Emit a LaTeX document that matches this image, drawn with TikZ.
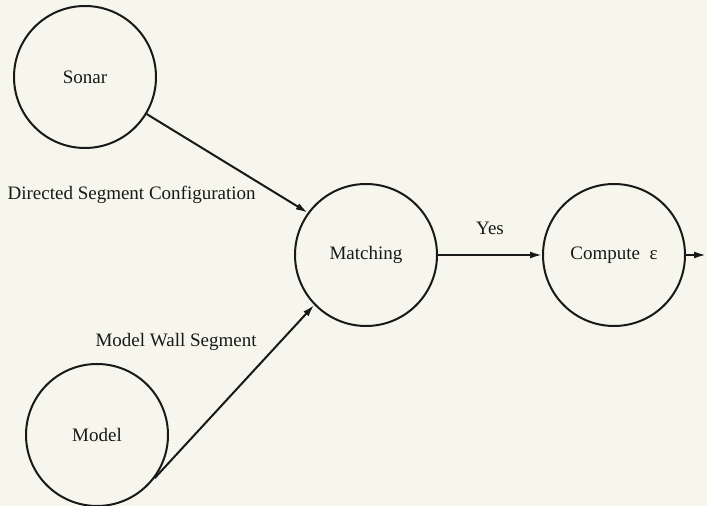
\documentclass[tikz,border=0pt]{standalone}
\usepackage{fontspec}
\setmainfont{Liberation Serif}
\usetikzlibrary{arrows.meta, positioning}
\definecolor{paper}{RGB}{246,246,236}
\definecolor{ink}{RGB}{25,25,25}
\tikzset{
    bubble/.style={circle, draw=ink, text=ink, line width=1pt, minimum size=71pt, inner sep=0pt, align=center, font=\fontsize{9.5}{11}\selectfont},
    flow/.style={draw=ink, line width=1pt, -{Latex[length=6pt, width=3.5pt]}},
    tag/.style={text=ink, inner sep=0pt, font=\fontsize{9.5}{11}\selectfont}
}

\begin{document}
\begin{tikzpicture}[x=0.5pt, y=-0.5pt]

    % Paper
    \path [use as bounding box, fill=paper] (0,0) rectangle (707,506);

    % Inputs
    \node (sonar) [bubble] at (85,77) {Sonar};
    \node (model) [bubble] at (97,435) {Model};

    % Processes
    \node (matching) [bubble] at (366,255) {Matching};
    \node (compute) [bubble, right=52pt of matching] {Compute~~ε};
    \coordinate (output) at (706,255);

    % Flows
    \draw [flow] (sonar.-31) -- (matching.144);
    \draw [flow] (model.-37) -- (matching.-136);
    \draw [flow] (matching) -- (compute) node[tag, midway, above=9.5pt] {Yes};
    \draw [flow] (compute) -- (output);

    % Data labels
    \node (dsc) [tag, anchor=east] at (256,195) {Directed Segment Configuration};
    \node (mws) [tag, anchor=east] at (257,342) {Model Wall Segment};

\end{tikzpicture}
\end{document}
